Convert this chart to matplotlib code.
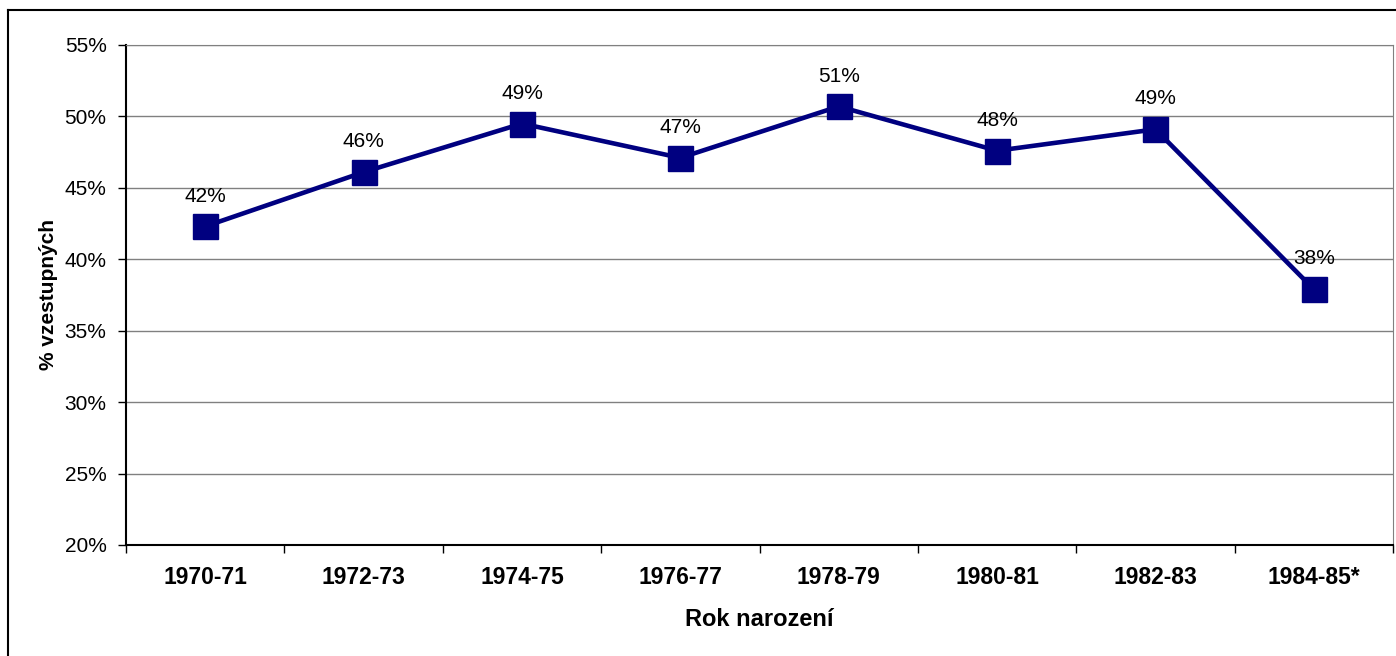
import matplotlib
matplotlib.use("Agg")
import matplotlib.pyplot as plt
from matplotlib.lines import Line2D
from matplotlib.ticker import FixedLocator, NullFormatter

plt.rcParams['font.family'] = ['Liberation Sans', 'DejaVu Sans']

categories = ["1970-71", "1972-73", "1974-75", "1976-77", "1978-79", "1980-81", "1982-83", "1984-85*"]
values = [42.3, 46.1, 49.5, 47.1, 50.7, 47.6, 49.1, 37.9]
labels = ["42%", "46%", "49%", "47%", "51%", "48%", "49%", "38%"]
yticks = [20, 25, 30, 35, 40, 45, 50, 55]

FS = 15

fig = plt.figure(figsize=(13.96, 6.56), dpi=100)
ax = fig.add_axes([126/1396, 1 - 545/656, (1393-126)/1396, (545-45)/656])

x = list(range(len(categories)))
ax.plot(x, values, color="#000080", linewidth=3.3, marker="s", markersize=18,
        markerfacecolor="#000080", markeredgecolor="#000080", zorder=3, clip_on=False)
for xi, v, lab in zip(x, values, labels):
    ax.annotate(lab, (xi, v), xytext=(0, 15), textcoords="offset points",
                ha="center", va="bottom", fontsize=FS, color="black")

ax.set_xlim(-0.5, len(categories) - 0.5)
ax.set_ylim(20, 55)
ax.set_yticks(yticks)
ax.set_yticklabels([f"{t}%" for t in yticks], fontsize=FS)
ax.yaxis.grid(True, color="#808080", linewidth=1)
ax.set_axisbelow(True)

ax.xaxis.set_major_locator(FixedLocator([i - 0.5 for i in range(len(categories) + 1)]))
ax.xaxis.set_major_formatter(NullFormatter())
ax.xaxis.set_minor_locator(FixedLocator(x))
ax.set_xticklabels(categories, minor=True, fontsize=16.5, fontweight="bold")
ax.tick_params(axis="x", which="minor", length=0, pad=15)
ax.tick_params(axis="x", which="major", length=6, width=1, direction="out")
ax.tick_params(axis="y", length=6, width=1, direction="out", pad=8)

ax.spines["left"].set_color("black")
ax.spines["bottom"].set_color("black")
ax.spines["left"].set_linewidth(1.5)
ax.spines["bottom"].set_linewidth(1.5)
ax.spines["top"].set_color("#808080")
ax.spines["right"].set_color("#808080")

ax.set_xlabel("Rok narození", fontsize=17, fontweight="bold", labelpad=14)
ax.set_ylabel("% vzestupných", fontsize=FS, fontweight="bold", labelpad=5)

fig.add_artist(Line2D([8/1396, 8/1396], [0, 1 - 10/656], transform=fig.transFigure, color="black", linewidth=1.5))
fig.add_artist(Line2D([8/1396, 1], [1 - 10/656, 1 - 10/656], transform=fig.transFigure, color="black", linewidth=1.5))

fig.savefig("out.png", dpi=100)
